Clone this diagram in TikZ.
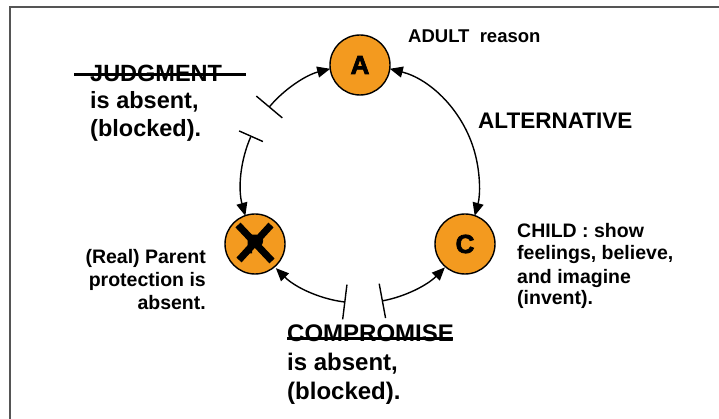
\documentclass[tikz,border=0pt]{standalone}
\usepackage{fontspec}
\setmainfont{Liberation Sans}
\newfontfamily\heavyfont[FakeBold=3]{Liberation Sans Bold}
\usetikzlibrary{arrows.meta}
\definecolor{egoorange}{RGB}{243,154,31}
\definecolor{framegray}{RGB}{85,85,85}
\begin{document}
\begin{tikzpicture}[x=1pt,y=1pt,
  >={Triangle[length=13pt,width=11pt]},
  ego/.style={circle, draw=black, line width=1.4pt, fill=egoorange, minimum size=60pt, inner sep=0pt, font=\heavyfont\fontsize{26}{26}\selectfont},
  conn/.style={line width=1.4pt},
  lbl/.style={inner sep=0pt, font=\bfseries\fontsize{19.5}{23}\selectfont},
  adultlbl/.style={inner sep=0pt, font=\bfseries\fontsize{18.5}{22}\selectfont},
  altlbl/.style={inner sep=0pt, font=\bfseries\fontsize{22.5}{27}\selectfont},
  big/.style={inner sep=0pt, font=\bfseries\fontsize{23.5}{28}\selectfont},
  bigger/.style={inner sep=0pt, font=\bfseries\fontsize{24}{29}\selectfont},
  strike/.style={line width=3pt},
]
\useasboundingbox (0,0) rectangle (719,419);
\draw[framegray, line width=2pt] (10,0) -- (10,412) -- (719,412);

\def\R{119}
\coordinate (O) at (360,235);

% ego state circles
\node[ego] (A) at (360,354) {A};
\node[ego] (P) at (255,175) {P};
\node[ego] (C) at (465,175) {C};
\draw[line width=7pt] ([shift={(-17,19)}]P.center) -- ([shift={(17,-17)}]P.center);
\draw[line width=7pt] ([shift={(16,19)}]P.center) -- ([shift={(-16,-16)}]P.center);

% arc end points
\coordinate (j1) at ([shift={(140:\R)}]O);
\coordinate (j2) at ([shift={(156:\R)}]O);
\coordinate (c1) at ([shift={(263:\R)}]O);
\coordinate (c2) at ([shift={(280.5:\R)}]O);
\coordinate (ar) at ([shift={(75.5:\R)}]O);

% connectors
\draw[conn, {Bar[width=34pt]}->] (j1) arc[start angle=140, end angle=104.5, radius=\R];
\draw[conn, {Bar[width=26pt]}->] (j2) arc[start angle=156, end angle=195.5, radius=\R];
\draw[conn, {Bar[width=35pt]}->] (c1) arc[start angle=263, end angle=225, radius=\R];
\draw[conn, {Bar[width=35pt]}->] (c2) arc[start angle=280.5, end angle=315.5, radius=\R];
\draw[conn, <->] (ar) arc[start angle=75.5, end angle=-15.5, radius=\R];

% labels
\node[adultlbl, anchor=base west] (adult) at (408,376) {ADULT\ \ reason};
\node[altlbl, anchor=base west] (alt) at (478,290.7) {ALTERNATIVE};

\node[big, anchor=base west] (jud1) at (90,337.3) {JUDGMENT};
\node[big, anchor=base west] (jud2) at (90,310) {is absent,};
\node[big, anchor=base west] (jud3) at (90,282) {(blocked).};
\draw[strike] (74,344) -- (246,344);

\node[lbl, anchor=base east] (par1) at (206,155) {(Real) Parent};
\node[lbl, anchor=base east] (par2) at (206,132) {protection is};
\node[lbl, anchor=base east] (par3) at (206,109) {absent.};

\node[lbl, anchor=base west] (ch1) at (517,181.3) {CHILD : show};
\node[lbl, anchor=base west] (ch2) at (517,159) {feelings, believe,};
\node[lbl, anchor=base west] (ch3) at (517,135.7) {and imagine};
\node[lbl, anchor=base west] (ch4) at (517,114) {(invent).};

\node[bigger, anchor=base west] (com1) at (287,77) {COMPROMISE};
\node[bigger, anchor=base west] (com2) at (287,48) {is absent,};
\node[bigger, anchor=base west] (com3) at (287,19) {(blocked).};
\draw[strike] (287,80) -- (453,80);
\end{tikzpicture}
\end{document}
